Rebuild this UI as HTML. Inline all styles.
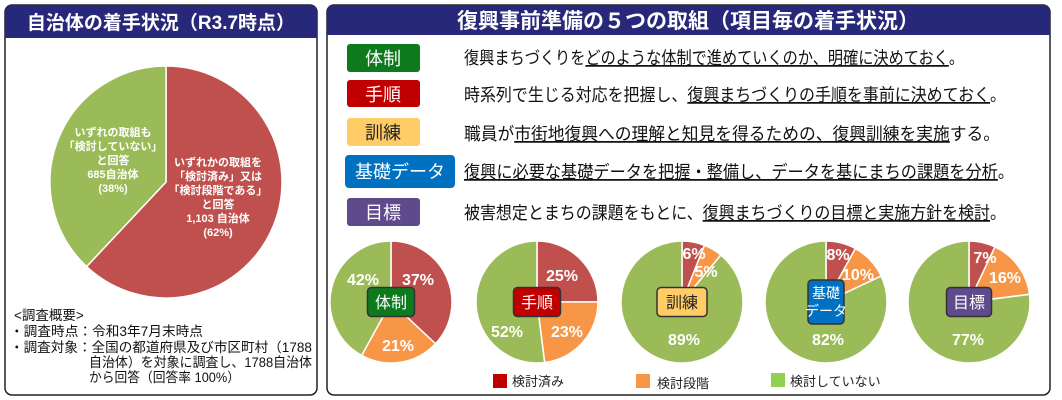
<!DOCTYPE html>
<html><head><meta charset="utf-8"><style>
body{margin:0;background:#fff;width:1062px;height:400px;overflow:hidden}
svg{display:block}
text{font-family:"Liberation Sans","Noto Sans CJK JP",sans-serif}
</style></head><body>
<svg id="s" width="1062" height="400" viewBox="0 0 1062 400">
<rect x="5" y="5" width="312" height="390" rx="7" fill="#fff" stroke="#222" stroke-width="1.5"/>
<path d="M5 38 V12 Q5 5 12 5 H310 Q317 5 317 12 V38 Z" fill="#27287a"/>
<text x="161" y="29" font-size="19" font-weight="bold" fill="#fff" text-anchor="middle">自治体の着手状況（R3.7時点）</text>
<rect x="327" y="5" width="723" height="390" rx="7" fill="#fff" stroke="#222" stroke-width="1.5"/>
<path d="M327 35 V12 Q327 5 334 5 H1043 Q1050 5 1050 12 V35 Z" fill="#27287a"/>
<text x="688" y="28" font-size="21" font-weight="bold" fill="#fff" text-anchor="middle">復興事前準備の５つの取組（項目毎の着手状況）</text>
<g id="big"></g>
<g font-size="11" font-weight="bold" fill="#fff" text-anchor="middle">
<text x="113" y="136">いずれの取組も</text><text x="113" y="150">「検討していない」</text><text x="113" y="164">と回答</text><text x="113" y="178">685自治体</text><text x="113" y="192">(38%)</text>
<text x="218" y="166">いずれかの取組を</text><text x="218" y="180">「検討済み」又は</text><text x="218" y="194">「検討段階である」</text><text x="218" y="208">と回答</text><text x="218" y="222">1,103 自治体</text><text x="218" y="236">(62%)</text>
</g>
<g font-size="13.5" fill="#111" lengthAdjust="spacingAndGlyphs">
<text x="14" y="320">&lt;調査概要&gt;</text>
<text x="10" y="336" textLength="193" lengthAdjust="spacingAndGlyphs">・調査時点：令和3年7月末時点</text>
<text x="10" y="352" textLength="302" lengthAdjust="spacingAndGlyphs">・調査対象：全国の都道府県及び市区町村（1788</text>
<text x="89" y="367" textLength="223" lengthAdjust="spacingAndGlyphs">自治体）を対象に調査し、1788自治体</text>
<text x="89" y="382" textLength="151" lengthAdjust="spacingAndGlyphs">から回答（回答率 100%）</text>
</g>
<g font-size="18" fill="#fff" text-anchor="middle">
<rect x="347" y="44" width="73" height="28" rx="3" fill="#0e7a1e"/><text x="383" y="65">体制</text>
<rect x="347" y="80" width="73" height="27" rx="3" fill="#c00000"/><text x="383" y="101">手順</text>
<rect x="347" y="118" width="73" height="28" rx="3" fill="#ffcc66"/><text x="383" y="139" fill="#222">訓練</text>
<rect x="345" y="155" width="110" height="33" rx="4" fill="#0070c0"/><text x="400" y="178">基礎データ</text>
<rect x="347" y="198" width="73" height="28" rx="3" fill="#5f4b8b"/><text x="383" y="219">目標</text>
</g>
<g font-size="17.5" fill="#111">
<text x="464" y="64" textLength="500" lengthAdjust="spacingAndGlyphs">復興まちづくりを<tspan text-decoration="underline">どのような体制で進めていくのか、明確に決めておく</tspan>。</text>
<text x="464" y="101" textLength="542" lengthAdjust="spacingAndGlyphs">時系列で生じる対応を把握し、<tspan text-decoration="underline">復興まちづくりの手順を事前に決めておく</tspan>。</text>
<text x="464" y="140" textLength="536" lengthAdjust="spacingAndGlyphs">職員が<tspan text-decoration="underline">市街地復興への理解と知見を得るための、復興訓練を実施</tspan>する。</text>
<text x="464" y="178" textLength="550" lengthAdjust="spacingAndGlyphs"><tspan text-decoration="underline">復興に必要な基礎データを把握・整備し、データを基にまちの課題を分析</tspan>。</text>
<text x="464" y="219" textLength="542" lengthAdjust="spacingAndGlyphs">被害想定とまちの課題をもとに、<tspan text-decoration="underline">復興まちづくりの目標と実施方針を検討</tspan>。</text>
</g>
<g id="small"></g>
<g font-size="13" fill="#222">
<rect x="493" y="374" width="14" height="14" fill="#c00000"/><text x="512" y="386">検討済み</text>
<rect x="636" y="374" width="14" height="14" fill="#f79646"/><text x="657" y="388">検討段階</text>
<rect x="771" y="373" width="14" height="14" fill="#92d050"/><text x="790" y="386">検討していない</text>
</g>
</svg>
<script>
var NS="http://www.w3.org/2000/svg";
function slice(g,cx,cy,r,a0,a1,col){
 var p=document.createElementNS(NS,"path");
 var t0=a0*2*Math.PI-Math.PI/2,t1=a1*2*Math.PI-Math.PI/2;
 var d="M"+cx+" "+cy+" L"+(cx+r*Math.cos(t0))+" "+(cy+r*Math.sin(t0))+" A"+r+" "+r+" 0 "+((a1-a0)>0.5?1:0)+" 1 "+(cx+r*Math.cos(t1))+" "+(cy+r*Math.sin(t1))+" Z";
 p.setAttribute("d",d);p.setAttribute("fill",col);p.setAttribute("stroke","#fff");p.setAttribute("stroke-width","1.5");g.appendChild(p);
}
function txt(g,x,y,s,sz,fill,anchor){var t=document.createElementNS(NS,"text");t.setAttribute("x",x);t.setAttribute("y",y);t.setAttribute("font-size",sz);t.setAttribute("fill",fill);t.setAttribute("font-weight","bold");t.setAttribute("text-anchor",anchor||"middle");t.textContent=s;g.appendChild(t);}
var big=document.getElementById("big");
slice(big,166,182,116,0,0.62,"#c0504d");slice(big,166,182,116,0.62,1,"#9bbb59");
var sm=document.getElementById("small");
var R="#c0504d",O="#f79646",G="#9bbb59";
var pies=[
 {cx:391,v:[37,21,42],lab:"体制",col:"#0e7a1e",tc:"#fff",bw:47,bh:29,t:[[418,285,"37%"],[398,351,"21%"],[363,285,"42%"]]},
 {cx:537,v:[25,23,52],lab:"手順",col:"#c00000",tc:"#fff",bw:47,bh:29,t:[[562,281,"25%"],[567,337,"23%"],[507,337,"52%"]]},
 {cx:682,v:[6,5,89],lab:"訓練",col:"#ffcc66",tc:"#222",bw:50,bh:29,t:[[694,259,"6%"],[706,277,"5%"],[684,345,"89%"]]},
 {cx:826,v:[8,10,82],lab:"基礎\nデータ",col:"#0070c0",tc:"#fff",bw:36,bh:44,t:[[838,260,"8%"],[858,280,"10%"],[828,345,"82%"]]},
 {cx:969,v:[7,16,77],lab:"目標",col:"#5f4b8b",tc:"#fff",bw:45,bh:29,t:[[985,263,"7%"],[1005,283,"16%"],[968,345,"77%"]]}
];
pies.forEach(function(p){
 var cy=302,r=61,a=0,cols=[R,O,G];
 for(var i=0;i<3;i++){var b=a+p.v[i]/100;slice(sm,p.cx,cy,r,a,b,cols[i]);a=b;}
 p.t.forEach(function(q){txt(sm,q[0],q[1],q[2],16,"#fff");});
 var rc=document.createElementNS(NS,"rect");
 rc.setAttribute("x",p.cx-p.bw/2);rc.setAttribute("y",cy-p.bh/2);rc.setAttribute("width",p.bw);rc.setAttribute("height",p.bh);rc.setAttribute("rx",4);rc.setAttribute("fill",p.col);rc.setAttribute("stroke","#333");rc.setAttribute("stroke-width","1.5");sm.appendChild(rc);
 var ls=p.lab.split("\n");
 if(ls.length==1){txt(sm,p.cx,cy+6,ls[0],16,p.tc);}
 else{txt(sm,p.cx,cy-4,ls[0],14,p.tc);txt(sm,p.cx,cy+14,ls[1],14,p.tc);}
});
sm.querySelectorAll("text").forEach(function(t){if(/[^0-9%]/.test(t.textContent))t.setAttribute("font-weight","normal");});
</script>
</body></html>
